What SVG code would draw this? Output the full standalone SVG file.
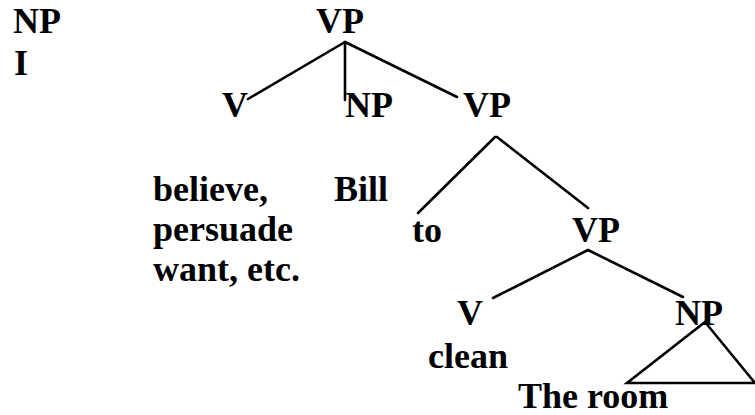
<svg xmlns="http://www.w3.org/2000/svg" width="755" height="415" viewBox="0 0 755 415">
  <rect width="755" height="415" fill="#fff"/>

  <!-- tree edges: shared stroke set once on the group -->
  <g id="connectors" stroke="#000" stroke-width="2.6" fill="none" stroke-linecap="round">
    <line x1="345" y1="42" x2="248" y2="99"/>
    <line x1="345" y1="42" x2="345" y2="100"/>
    <line x1="345" y1="42" x2="457" y2="97"/>
    <line x1="495" y1="137" x2="418" y2="213"/>
    <line x1="497" y1="137" x2="588" y2="208"/>
    <line x1="588" y1="250" x2="493" y2="298"/>
    <line x1="588" y1="250" x2="683" y2="297"/>
    <path d="M705 322 L627 383 L755 383 Z"/>
  </g>

  <!-- node labels: bold serif -->
  <g id="subject-np">
    <text x="13" y="33" font-family="Liberation Serif" font-weight="bold" font-size="36">NP</text>
    <text x="14" y="75" font-family="Liberation Serif" font-weight="bold" font-size="36">I</text>
  </g>
  <g id="vp-root"><text x="316" y="33" font-family="Liberation Serif" font-weight="bold" font-size="36">VP</text></g>
  <g id="v-main"><text x="222" y="117" font-family="Liberation Serif" font-weight="bold" font-size="36">V</text></g>
  <g id="np-object"><text x="345" y="117" font-family="Liberation Serif" font-weight="bold" font-size="36">NP</text></g>
  <g id="vp-inf"><text x="463" y="117" font-family="Liberation Serif" font-weight="bold" font-size="36">VP</text></g>
  <g id="verbs">
    <text x="153" y="201" font-family="Liberation Serif" font-weight="bold" font-size="36">believe,</text>
    <text x="153" y="241" font-family="Liberation Serif" font-weight="bold" font-size="36">persuade</text>
    <text x="153" y="281" font-family="Liberation Serif" font-weight="bold" font-size="36">want, etc.</text>
  </g>
  <g id="bill"><text x="334" y="201" font-family="Liberation Serif" font-weight="bold" font-size="36">Bill</text></g>
  <g id="to"><text x="412" y="242" font-family="Liberation Serif" font-weight="bold" font-size="36">to</text></g>
  <g id="vp-lower"><text x="572" y="242" font-family="Liberation Serif" font-weight="bold" font-size="36">VP</text></g>
  <g id="v-lower">
    <text x="457" y="325" font-family="Liberation Serif" font-weight="bold" font-size="36">V</text>
    <text x="428" y="368" font-family="Liberation Serif" font-weight="bold" font-size="36">clean</text>
  </g>
  <g id="np-lower">
    <text x="675" y="325" font-family="Liberation Serif" font-weight="bold" font-size="36">NP</text>
    <text x="518" y="408" font-family="Liberation Serif" font-weight="bold" font-size="36">The room</text>
  </g>
</svg>
